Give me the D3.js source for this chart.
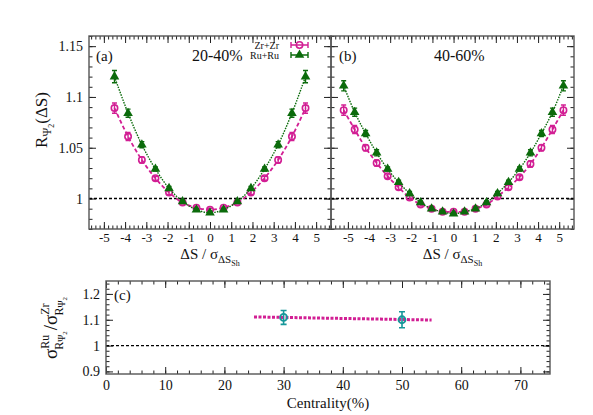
<!DOCTYPE html>
<html>
<head>
<meta charset="utf-8">
<script src="https://cdn.jsdelivr.net/npm/d3@7"></script>
<style>
  body { margin: 0; background: #fff; }
  svg text { font-family: "Liberation Serif", "Times New Roman", Times, serif; }
</style>
</head>
<body>
<script>
// ---- data ----
const xA = [-4.5, -3.86, -3.21, -2.57, -1.93, -1.29, -0.64, 0, 0.64, 1.29, 1.93, 2.57, 3.21, 3.86, 4.5];
const zrA = [1.089, 1.061, 1.038, 1.020, 1.006, 0.996, 0.991, 0.989, 0.991, 0.996, 1.006, 1.020, 1.038, 1.061, 1.089];
const zrAerr = [0.005, 0.004, 0.003, 0.002, 0.002, 0.0015, 0.0015, 0.0015, 0.0015, 0.0015, 0.002, 0.002, 0.003, 0.004, 0.005];
const ruA = [1.120, 1.084, 1.053, 1.029, 1.010, 0.997, 0.989, 0.986, 0.989, 0.997, 1.010, 1.029, 1.053, 1.084, 1.120];
const ruAerr = [0.006, 0.004, 0.003, 0.002, 0.002, 0.0015, 0.0015, 0.0015, 0.0015, 0.0015, 0.002, 0.002, 0.003, 0.004, 0.006];

const xB = [-5.2, -4.68, -4.16, -3.64, -3.12, -2.6, -2.08, -1.56, -1.04, -0.52, 0, 0.52, 1.04, 1.56, 2.08, 2.6, 3.12, 3.64, 4.16, 4.68, 5.2];
const zrB = [1.087, 1.068, 1.050, 1.035, 1.022, 1.011, 1.001, 0.994, 0.990, 0.987, 0.987, 0.987, 0.990, 0.994, 1.002, 1.011, 1.021, 1.034, 1.050, 1.068, 1.087];
const zrBerr = [0.005, 0.004, 0.003, 0.003, 0.002, 0.002, 0.002, 0.0015, 0.0015, 0.0015, 0.0015, 0.0015, 0.0015, 0.0015, 0.002, 0.002, 0.002, 0.003, 0.003, 0.004, 0.005];
const ruB = [1.111, 1.085, 1.064, 1.045, 1.029, 1.016, 1.005, 0.996, 0.990, 0.987, 0.985, 0.987, 0.990, 0.996, 1.005, 1.016, 1.029, 1.045, 1.064, 1.085, 1.111];
const ruBerr = [0.005, 0.004, 0.003, 0.003, 0.002, 0.002, 0.002, 0.0015, 0.0015, 0.0015, 0.0015, 0.0015, 0.0015, 0.0015, 0.002, 0.002, 0.002, 0.003, 0.003, 0.004, 0.005];

const centrality = [30, 50];
const ratio = [1.109, 1.100];
const ratioErr = [0.027, 0.031];
const fitX = [25, 55];
const fitY = [1.111, 1.099];

const xTicksAB = [-5, -4, -3, -2, -1, 0, 1, 2, 3, 4, 5];
const yTicksAB = [1, 1.05, 1.1, 1.15];
const xTicksC = [0, 10, 20, 30, 40, 50, 60, 70];
const yTicksC = [0.9, 1, 1.1, 1.2];

const pink = "#d21f94";
const green = "#0b6b0b";
const teal = "#16979a";

const svg = d3.select("body").append("svg")
  .attr("width", 593).attr("height", 415);

// ---- scales ----
const y = d3.scaleLinear().domain([0.97, 1.16]).range([229, 36]);
const xa = d3.scaleLinear().domain([-5.7, 5.7]).range([89, 331]);
const xb = d3.scaleLinear().domain([-5.8, 5.7]).range([331, 574]);
const xc = d3.scaleLinear().domain([0, 75]).range([106, 550]);
const yc = d3.scaleLinear().domain([0.89, 1.25]).range([374, 281]);

function axis(gen, scale, values, size, trans, fmt, pad) {
  const g = svg.append("g").attr("transform", trans)
    .call(gen(scale).tickValues(values).tickSize(size).tickPadding(pad || 6)
      .tickFormat(fmt || (() => "")));
  g.select(".domain").remove();
  g.selectAll("line").attr("stroke", "#222").attr("stroke-width", 1);
  g.selectAll("text").attr("fill", "#111");
  return g;
}

function frame(x, yy) {
  const [x0, x1] = x.range(), [y0, y1] = yy.range();
  svg.append("rect")
    .attr("x", x0).attr("y", y1).attr("width", x1 - x0).attr("height", y0 - y1)
    .attr("fill", "none").attr("stroke", "#555").attr("stroke-width", 1.4);
}

const fmt = d => String(+d.toFixed(2));

// minor tick positions
function between(a, b, step) {
  return d3.range(Math.ceil(a / step - 1e-9), Math.floor(b / step + 1e-9) + 1).map(i => +(i * step).toFixed(4));
}

// ---- panels (a) and (b) ----
[[xa, "a"], [xb, "b"]].forEach(([x, id]) => {
  const [x0, x1] = x.range();
  const minorX = between(x.domain()[0], x.domain()[1], 0.2);
  const minorY = between(0.97, 1.16, 0.01);
  axis(d3.axisBottom, x, minorX, -3.5, `translate(0,229)`);
  axis(d3.axisBottom, x, xTicksAB, -7, `translate(0,229)`, fmt, 4).selectAll("text").attr("font-size", 13);
  axis(d3.axisTop, x, minorX, -3.5, `translate(0,36)`);
  axis(d3.axisTop, x, xTicksAB, -7, `translate(0,36)`);
  axis(d3.axisLeft, y, minorY, -3.5, `translate(${x0},0)`);
  const left = axis(d3.axisLeft, y, yTicksAB, -7, `translate(${x0},0)`, id === "a" ? fmt : null, 6);
  left.selectAll("text").attr("font-size", 14);
  axis(d3.axisRight, y, minorY, -3.5, `translate(${x1},0)`);
  axis(d3.axisRight, y, yTicksAB, -7, `translate(${x1},0)`);

  // reference line at 1
  svg.append("line")
    .attr("x1", x0).attr("x2", x1).attr("y1", y(1)).attr("y2", y(1))
    .attr("stroke", "#000").attr("stroke-width", 1.5).attr("stroke-dasharray", "3,2");

  frame(x, y);

  // x title
  const t = svg.append("text").attr("x", (x0 + x1) / 2).attr("y", 259)
    .attr("text-anchor", "middle").attr("font-size", 15).attr("fill", "#111");
  t.append("tspan").text("ΔS / σ");
  t.append("tspan").attr("font-size", 11).attr("dy", 4).text("ΔS");
  t.append("tspan").attr("font-size", 8).attr("dy", 3).text("Sh");
});

function series(x, xs, vals, errs, color, dash, width, marker) {
  const pts = xs.map((d, i) => ({ x: d, v: vals[i], e: errs[i] }));
  svg.append("path").datum(pts)
    .attr("fill", "none").attr("stroke", color).attr("stroke-width", width)
    .attr("stroke-dasharray", dash)
    .attr("d", d3.line().x(d => x(d.x)).y(d => y(d.v)).curve(d3.curveCatmullRom));
  const g = svg.append("g").selectAll("g").data(pts).join("g")
    .attr("transform", d => `translate(${x(d.x)},${y(d.v)})`);
  g.append("path")
    .attr("d", d => {
      const a = y(d.v - d.e) - y(d.v), b = y(d.v + d.e) - y(d.v);
      return `M0,${a}V${b}M-2.5,${a}H2.5M-2.5,${b}H2.5`;
    })
    .attr("stroke", color).attr("stroke-width", 1.4).attr("fill", "none");
  if (marker === "circle") {
    g.append("circle").attr("r", 3.2).attr("fill", "none")
      .attr("stroke", color).attr("stroke-width", 1.6);
  } else {
    g.append("path").attr("d", d3.symbol(d3.symbolTriangle, 40)()).attr("fill", color);
  }
}

series(xa, xA, zrA, zrAerr, pink, "4,2.5", 1.8, "circle");
series(xa, xA, ruA, ruAerr, green, "1.5,1.2", 1.4, "triangle");
series(xb, xB, zrB, zrBerr, pink, "4,2.5", 1.8, "circle");
series(xb, xB, ruB, ruBerr, green, "1.5,1.2", 1.4, "triangle");

// panel labels
svg.append("text").attr("x", 96).attr("y", 61).attr("font-size", 15).attr("fill", "#111").text("(a)");
svg.append("text").attr("x", 192).attr("y", 61).attr("font-size", 16).attr("fill", "#111").text("20-40%");
svg.append("text").attr("x", 339).attr("y", 61).attr("font-size", 15).attr("fill", "#111").text("(b)");
svg.append("text").attr("x", 434).attr("y", 61).attr("font-size", 16).attr("fill", "#111").text("40-60%");

// legend
const legend = [["Zr+Zr", pink, "circle"], ["Ru+Ru", green, "triangle"]];
legend.forEach(([name, color, m], i) => {
  const ly = 45 + i * 10;
  svg.append("text").attr("x", 279).attr("y", ly + 3.5).attr("text-anchor", "end")
    .attr("font-size", 10).attr("fill", "#111").text(name);
  svg.append("path").attr("d", `M291,${ly}H308M291,${ly - 3}V${ly + 3}M308,${ly - 3}V${ly + 3}`)
    .attr("stroke", color).attr("stroke-width", 1.4);
  if (m === "circle") {
    svg.append("circle").attr("cx", 299.5).attr("cy", ly).attr("r", 3.2)
      .attr("fill", "none").attr("stroke", color).attr("stroke-width", 1.6);
  } else {
    svg.append("path").attr("transform", `translate(299.5,${ly})`)
      .attr("d", d3.symbol(d3.symbolTriangle, 40)()).attr("fill", color);
  }
});

// y title (a)
const yt = svg.append("text").attr("transform", "translate(47,120) rotate(-90)")
  .attr("text-anchor", "middle").attr("font-size", 17).attr("fill", "#111");
yt.append("tspan").text("R");
yt.append("tspan").attr("font-size", 12).attr("dy", 4).text("Ψ");
yt.append("tspan").attr("font-size", 8).attr("dy", 3).text("2");
yt.append("tspan").attr("dy", -7).text("(ΔS)");

// ---- panel (c) ----
{
  const [x0, x1] = xc.range();
  const minorX = between(0, 75, 2);
  const minorY = between(0.89, 1.25, 0.02);
  axis(d3.axisBottom, xc, minorX, -3.5, `translate(0,${yc.range()[0]})`);
  axis(d3.axisBottom, xc, xTicksC, -7, `translate(0,${yc.range()[0]})`, fmt, 6).selectAll("text").attr("font-size", 14);
  axis(d3.axisTop, xc, minorX, -3.5, `translate(0,${yc.range()[1]})`);
  axis(d3.axisTop, xc, xTicksC, -7, `translate(0,${yc.range()[1]})`);
  axis(d3.axisLeft, yc, minorY, -3.5, `translate(${x0},0)`);
  axis(d3.axisLeft, yc, yTicksC, -7, `translate(${x0},0)`, fmt, 6).selectAll("text").attr("font-size", 14);
  axis(d3.axisRight, yc, minorY, -3.5, `translate(${x1},0)`);
  axis(d3.axisRight, yc, yTicksC, -7, `translate(${x1},0)`);

  svg.append("line")
    .attr("x1", x0).attr("x2", x1).attr("y1", yc(1)).attr("y2", yc(1))
    .attr("stroke", "#000").attr("stroke-width", 1.3).attr("stroke-dasharray", "3,2");

  frame(xc, yc);

  svg.append("path").datum(fitX.map((d, i) => [d, fitY[i]]))
    .attr("fill", "none").attr("stroke", pink).attr("stroke-width", 3)
    .attr("stroke-dasharray", "3,1.5")
    .attr("d", d3.line().x(d => xc(d[0])).y(d => yc(d[1])));

  const g = svg.append("g").selectAll("g")
    .data(centrality.map((c, i) => ({ c, v: ratio[i], e: ratioErr[i] })))
    .join("g").attr("transform", d => `translate(${xc(d.c)},${yc(d.v)})`);
  g.append("path")
    .attr("d", d => {
      const a = yc(d.v - d.e) - yc(d.v), b = yc(d.v + d.e) - yc(d.v);
      return `M0,${a}V${b}M-3,${a}H3M-3,${b}H3`;
    })
    .attr("stroke", teal).attr("stroke-width", 1.6).attr("fill", "none");
  g.append("circle").attr("r", 3.5).attr("fill", "none")
    .attr("stroke", teal).attr("stroke-width", 1.8);

  svg.append("text").attr("x", 114).attr("y", 300).attr("font-size", 15).attr("fill", "#111").text("(c)");

  svg.append("text").attr("x", (x0 + x1) / 2).attr("y", 408)
    .attr("text-anchor", "middle").attr("font-size", 15).attr("fill", "#111").text("Centrality(%)");

  const lab = svg.append("text").attr("transform", "translate(57,328) rotate(-90)")
    .attr("text-anchor", "middle").attr("font-size", 19).attr("fill", "#111");
  lab.append("tspan").text("σ");
  lab.append("tspan").attr("font-size", 12).attr("dy", -8).text("Ru");
  lab.append("tspan").attr("font-size", 12).attr("dx", -15).attr("dy", 14).text("R");
  lab.append("tspan").attr("font-size", 9.5).attr("dy", 2).text("Ψ");
  lab.append("tspan").attr("font-size", 7).attr("dy", 2).text("2");
  lab.append("tspan").attr("dx", 1).attr("dy", -10).text("/σ");
  lab.append("tspan").attr("font-size", 12).attr("dy", -8).text("Zr");
  lab.append("tspan").attr("font-size", 12).attr("dx", -12).attr("dy", 14).text("R");
  lab.append("tspan").attr("font-size", 9.5).attr("dy", 2).text("Ψ");
  lab.append("tspan").attr("font-size", 7).attr("dy", 2).text("2");
}
</script>
</body>
</html>
